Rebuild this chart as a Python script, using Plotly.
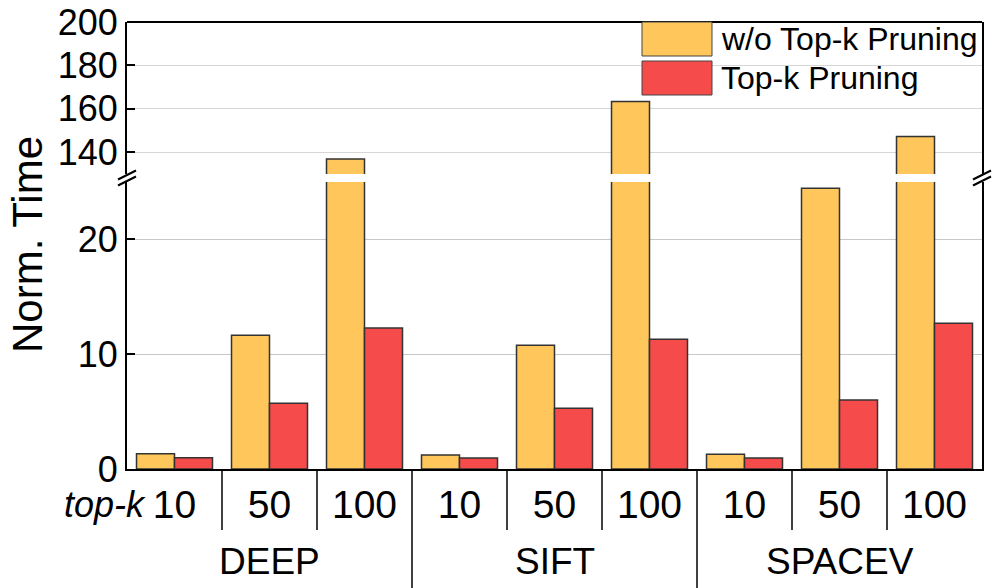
import plotly.graph_objects as go

datasets = ["DEEP", "SIFT", "SPACEV"]
topk = ["10", "50", "100"]
wo_pruning = [1.33, 11.65, 136.9, 1.22, 10.78, 163.4, 1.28, 24.46, 147.3]
pruning = [0.99, 5.73, 12.29, 0.96, 5.29, 11.31, 0.96, 6.02, 12.70]
series_names = ["w/o Top-k Pruning", "Top-k Pruning"]
lower_ticks = [0, 10, 20]
upper_ticks = [140, 160, 180, 200]

cats = [f"{d} {k}" for d in datasets for k in topk]
tick_text = [k for d in datasets for k in topk]

C_ORANGE = "#FEC65B"
C_RED = "#F54B4B"
FONT = "Liberation Sans, Arial, sans-serif"

fig = go.Figure()
for yax in ["y", "y2"]:
    fig.add_trace(go.Bar(x=cats, y=wo_pruning, name=series_names[0], marker_color=C_ORANGE,
                         marker_line=dict(color="#333333", width=1.5), xaxis="x", yaxis=yax,
                         showlegend=False))
    fig.add_trace(go.Bar(x=cats, y=pruning, name=series_names[1], marker_color=C_RED,
                         marker_line=dict(color="#333333", width=1.5), xaxis="x", yaxis=yax,
                         showlegend=False))

L, R, T, B = 127, 14, 22, 119
W, H = 996, 588
ph = H - T - B
pw = W - L - R
def py(pix):
    return (H - B - pix) / ph
def px(pix):
    return (pix - L) / pw

lower_top = py(182)
upper_bot = py(174)

axis_common = dict(showline=True, linecolor="black", linewidth=2, mirror=True,
                   ticks="inside", ticklen=8, tickwidth=2, tickcolor="black",
                   tickfont=dict(family=FONT, size=36, color="black"),
                   showgrid=True, zeroline=False, automargin=False)

fig.update_layout(
    width=W, height=H,
    margin=dict(l=L, r=R, t=T, b=B, autoexpand=False),
    plot_bgcolor="white", paper_bgcolor="white",
    barmode="group", bargap=0.2, bargroupgap=0,
    showlegend=False,
    font=dict(family=FONT, color="black"),
    xaxis=dict(domain=[0, 1], anchor="y", type="category", categoryorder="array",
               categoryarray=cats, tickmode="array", tickvals=cats, ticktext=tick_text,
               ticks="", showline=True, linecolor="black", linewidth=2, automargin=False,
               tickfont=dict(family=FONT, size=39, color="black"), ticklabelstandoff=0),
    yaxis=dict(domain=[0, lower_top], range=[0, 25], tickvals=lower_ticks,
               gridcolor="#c8c8c8", gridwidth=1, anchor="x", **axis_common),
    yaxis2=dict(domain=[upper_bot, 1], range=[130, 200], tickvals=upper_ticks,
                gridcolor="#d6d6d6", gridwidth=1, anchor="x", **axis_common),
)

shapes = []
# top border
shapes.append(dict(type="line", xref="paper", yref="paper", x0=0, x1=1, y0=1, y1=1,
                   line=dict(color="black", width=2)))
# category separators below axis
for i in range(1, len(cats)):
    long = (i % len(topk) == 0)
    yend = py(588) if long else py(530)
    shapes.append(dict(type="line", xref="x", yref="paper", x0=i - 0.5, x1=i - 0.5,
                       y0=0, y1=yend, line=dict(color="black", width=1.5)))
# axis break marks
yc = py(178)
for xp in [0, 1]:
    for dy in [py(175) - yc, py(181) - yc]:
        shapes.append(dict(type="line", xref="paper", yref="paper",
                           x0=xp - 9 / pw, x1=xp + 9 / pw,
                           y0=yc + dy - 4.5 / ph, y1=yc + dy + 4.5 / ph,
                           line=dict(color="black", width=2)))
# legend swatches
sw = [(C_ORANGE, 22, 56), (C_RED, 61, 95)]
for col, t, b in sw:
    shapes.append(dict(type="rect", xref="paper", yref="paper", x0=px(642), x1=px(712),
                       y0=py(b), y1=py(t), fillcolor=col, layer="above",
                       line=dict(color="#444444", width=1)))
fig.update_layout(shapes=shapes)

ann = []
ann.append(dict(text=series_names[0], xref="paper", yref="paper", x=px(719), y=py(39),
                xanchor="left", yanchor="middle", showarrow=False,
                font=dict(family=FONT, size=32, color="black")))
ann.append(dict(text=series_names[1], xref="paper", yref="paper", x=px(719), y=py(78),
                xanchor="left", yanchor="middle", showarrow=False,
                font=dict(family=FONT, size=32, color="black")))
ann.append(dict(text="Norm. Time", xref="paper", yref="paper", x=px(27), y=py(245),
                xanchor="center", yanchor="middle", textangle=-90, showarrow=False,
                font=dict(family=FONT, size=42, color="black")))
ann.append(dict(text="<i>top-k</i>", xref="paper", yref="paper", x=px(148), y=py(504),
                xanchor="right", yanchor="middle", showarrow=False,
                font=dict(family=FONT, size=36, color="black")))
for gi, d in enumerate(datasets):
    ann.append(dict(text=d, xref="x", yref="paper", x=gi * len(topk) + 1, y=py(561),
                    xanchor="center", yanchor="middle", showarrow=False,
                    font=dict(family=FONT, size=37, color="black")))
fig.update_layout(annotations=ann)

fig.write_html("out.html", config={"displayModeBar": False},
               post_script="document.body.style.margin='0';document.body.style.padding='0';")
